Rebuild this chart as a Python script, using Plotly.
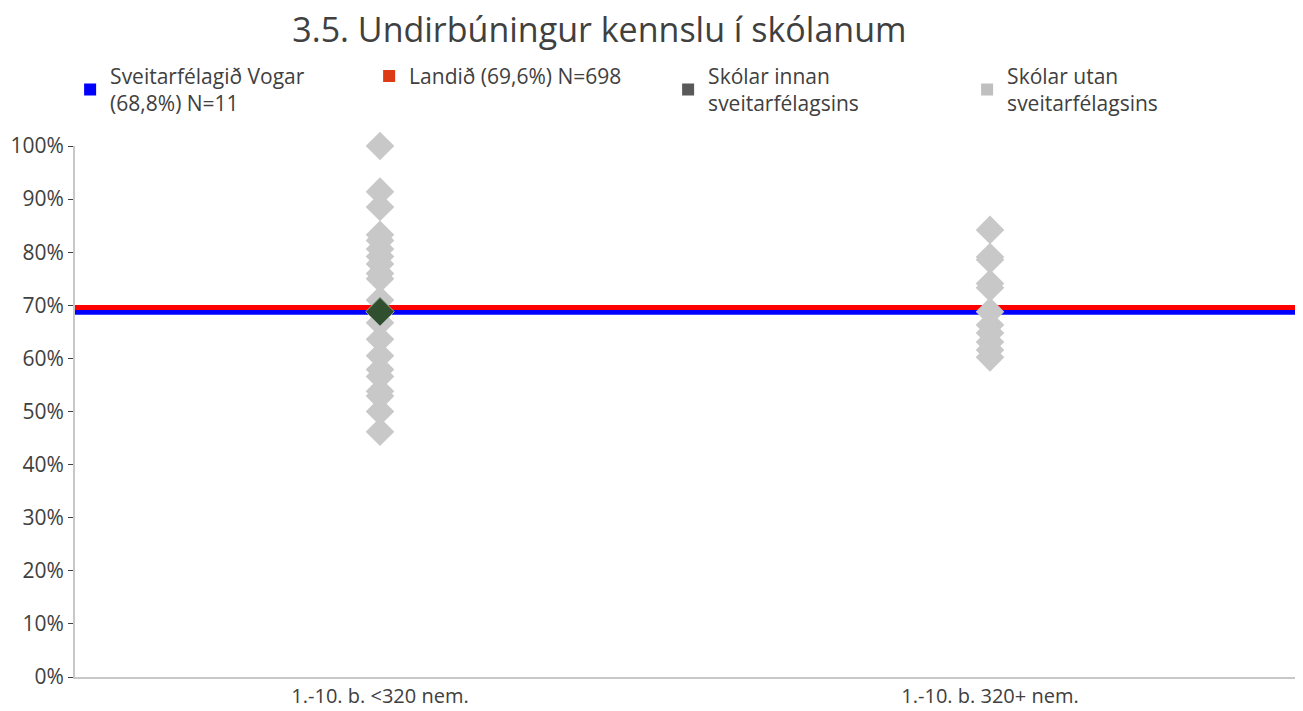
import plotly.graph_objects as go

categories = ["1.-10. b. <320 nem.", "1.-10. b. 320+ nem."]
cat_pos = [0.5, 1.5]

# Schools outside the municipality (light grey diamonds), in %
utan_cat1 = [100, 91.4, 88.5, 83.3, 82.2, 80.6, 79.2, 77.8, 76.0, 75.0, 71.0,
             66.7, 63.6, 60.5, 57.9, 56.6, 53.8, 52.9, 50.0, 46.2]
utan_cat2 = [84.2, 79.1, 78.6, 74.1, 73.3, 68.8, 66.3, 64.8, 63.1, 61.6, 60.2]

# Schools inside the municipality (dark diamond)
innan_cat1 = [68.8]

sveitarfelag_val = 68.8
landid_val = 69.6

legend_names = ["Sveitarfélagið Vogar<br>(68,8%) N=11",
                "Landið (69,6%) N=698",
                "Skólar innan<br>sveitarfélagsins",
                "Skólar utan<br>sveitarfélagsins"]
legend_colors = ["#0000FF", "#DD3A16", "#595959", "#BFBFBF"]

yticks = [0, 10, 20, 30, 40, 50, 60, 70, 80, 90, 100]
ytick_text = [f"{v}%" for v in yticks]

fig = go.Figure()

# reference lines
fig.add_trace(go.Scatter(x=[0, 2], y=[sveitarfelag_val / 100] * 2, mode="lines",
                         line=dict(color="#0000FF", width=6), showlegend=False, hoverinfo="skip"))
fig.add_trace(go.Scatter(x=[0, 2], y=[landid_val / 100] * 2, mode="lines",
                         line=dict(color="#FF0000", width=5), showlegend=False, hoverinfo="skip"))

# outside schools
xs = [cat_pos[0]] * len(utan_cat1) + [cat_pos[1]] * len(utan_cat2)
ys = [v / 100 for v in utan_cat1 + utan_cat2]
fig.add_trace(go.Scatter(x=xs, y=ys, mode="markers", showlegend=False,
                         marker=dict(symbol="diamond", size=22, color="#C8C8C8"),
                         cliponaxis=False))
# inside schools
fig.add_trace(go.Scatter(x=[cat_pos[0]] * len(innan_cat1), y=[v / 100 for v in innan_cat1],
                         mode="markers", showlegend=False,
                         marker=dict(symbol="diamond", size=22, color="#2F4F2F",
                                     line=dict(color="#9AA89A", width=1)),
                         cliponaxis=False))

# legend entries
for name, col in zip(legend_names, legend_colors):
    fig.add_trace(go.Scatter(x=[None], y=[None], mode="markers", name=name,
                             marker=dict(symbol="square", size=15, color=col)))

fig.update_layout(
    width=1303, height=711,
    paper_bgcolor="white", plot_bgcolor="white",
    margin=dict(l=75, r=8, t=146, b=34, autoexpand=False),
    font=dict(family="Open Sans, sans-serif", color="#404040", size=21),
    title=dict(text="3.5. Undirbúningur kennslu í skólanum", x=0.46, xanchor="center",
               y=0.975, yanchor="top", font=dict(size=34, color="#404040")),
    legend=dict(orientation="h", x=-0.004, xanchor="left", y=1.17, yanchor="top",
                entrywidth=254, entrywidthmode="pixels", font=dict(size=21, color="#404040"),
                itemsizing="constant", tracegroupgap=0, bgcolor="rgba(0,0,0,0)"),
    xaxis=dict(range=[0, 2], tickvals=cat_pos, ticktext=categories, showgrid=False,
               zeroline=False, showline=True, linecolor="#C8C8C8", linewidth=2,
               ticks="", tickfont=dict(size=20, color="#404040"), fixedrange=True,
               automargin=False),
    yaxis=dict(range=[0, 1], tickvals=[v / 100 for v in yticks], ticktext=ytick_text,
               showgrid=False, zeroline=False, showline=True, linecolor="#C8C8C8",
               linewidth=2, ticks="outside", ticklen=5, tickcolor="#404040",
               tickfont=dict(size=21, color="#404040"), automargin=False),
    showlegend=True,
)

fig.write_html("out.html", config={"displayModeBar": False},
               post_script="document.body.style.margin='0';document.body.style.overflow='hidden';")
